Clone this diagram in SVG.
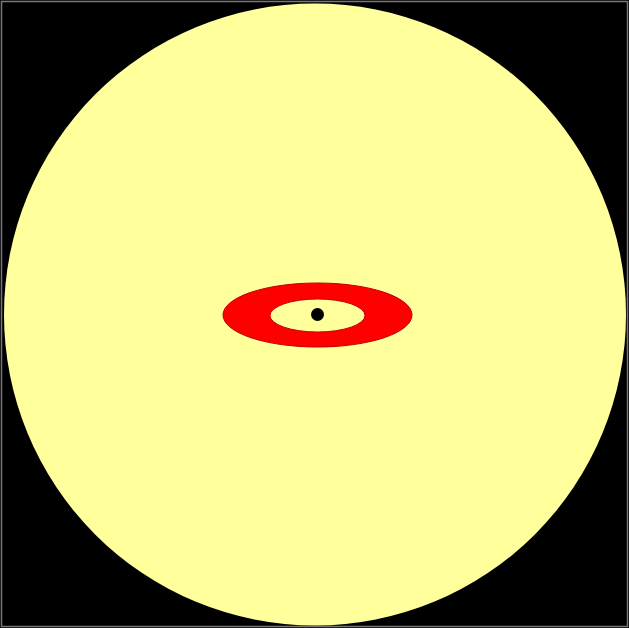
<svg xmlns="http://www.w3.org/2000/svg" width="629" height="628" viewBox="0 0 629 628">
<style>
.bg{fill:#000}
.sun{fill:#ffff9c}
.ring{fill:#ff0000;stroke:#c00000;stroke-width:1}
.hole{fill:#ffff9c;stroke:#c00000;stroke-width:1}
.dot{fill:#000}
</style>
<rect class="bg" x="0" y="0" width="629" height="628"/>
<rect x="1.5" y="1.5" width="626" height="625" fill="none" stroke="#777" stroke-width="1.5"/>
<circle class="sun" cx="315" cy="314.5" r="311"/>
<ellipse class="ring" cx="317.5" cy="315" rx="94.5" ry="32"/>
<ellipse class="hole" cx="317.5" cy="315.5" rx="47.5" ry="16.5"/>
<circle class="dot" cx="317.5" cy="314.5" r="6.5"/>
</svg>
